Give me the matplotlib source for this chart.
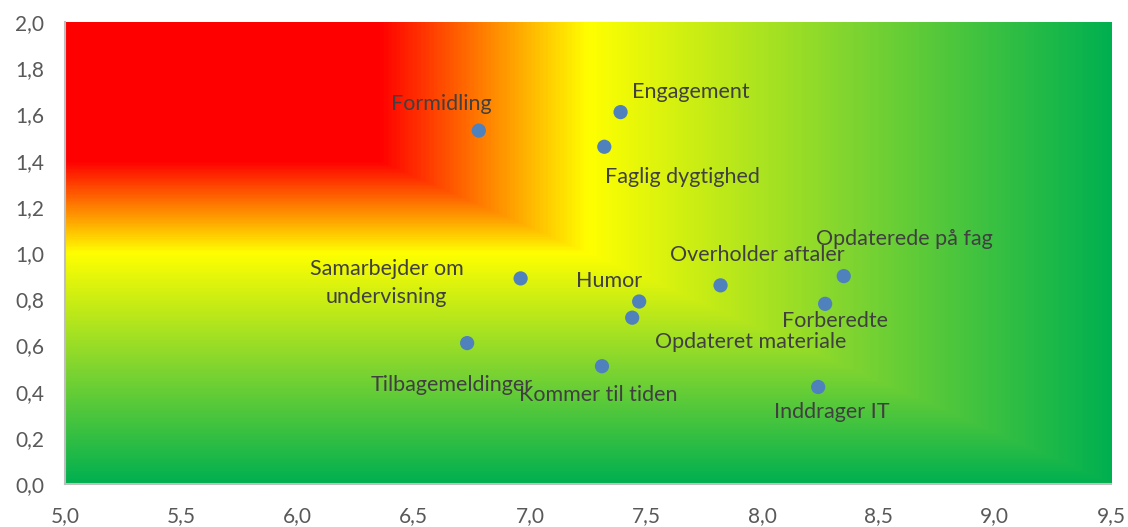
import matplotlib
matplotlib.use("Agg")
import matplotlib.pyplot as plt
import numpy as np
from matplotlib.colors import LinearSegmentedColormap
from matplotlib.ticker import FuncFormatter

# data
labels = ["Formidling", "Engagement", "Faglig dygtighed", "Samarbejder om\nundervisning",
          "Humor", "Opdateret materiale", "Overholder aftaler", "Opdaterede på fag",
          "Forberedte", "Tilbagemeldinger", "Kommer til tiden", "Inddrager IT"]
x_vals = [6.78, 7.39, 7.32, 6.96, 7.47, 7.44, 7.82, 8.35, 8.27, 6.73, 7.31, 8.24]
y_vals = [1.53, 1.61, 1.46, 0.89, 0.79, 0.72, 0.86, 0.90, 0.78, 0.61, 0.51, 0.42]
# label offsets in pixels (dx, dy) from the point, and horizontal alignment
offsets = [(-37, 27, "center"), (11, 20, "left"), (1, -30, "left"), (-134, -5, "center"),
           (-30, 21, "center"), (23, -24, "left"), (37, 30, "center"), (-28, 37, "left"),
           (10, -17, "center"), (-15, -42, "center"), (-4, -29, "center"), (14, -25, "center")]

fig = plt.figure(figsize=(11.28, 5.27), dpi=100)
ax = fig.add_axes([0.0576, 0.0816, 0.9274, 0.8766])

xmin, xmax, ymin, ymax = 5.0, 9.5, 0.0, 2.0

# rectangular gradient from top-left corner
cmap = LinearSegmentedColormap.from_list("grad", [
    (0.0, "#FF0000"), (0.30, "#FF0000"), (0.50, "#FFFF00"),
    (0.75, "#80D530"), (1.0, "#00B050")])
u = np.linspace(0, 1, 900)
v = np.linspace(0, 1, 400)
U, V = np.meshgrid(u, v)
T = np.maximum(U, V)
ax.imshow(T, cmap=cmap, extent=[xmin, xmax, ymin, ymax], origin="upper",
          aspect="auto", interpolation="bilinear", zorder=0, vmin=0, vmax=1)
ax.set_xlim(xmin, xmax)
ax.set_ylim(ymin, ymax)

ax.scatter(x_vals, y_vals, s=105, color="#4F81BD", zorder=3, edgecolors="none")

for lab, xv, yv, (dx, dy, ha) in zip(labels, x_vals, y_vals, offsets):
    ax.annotate(lab, (xv, yv), xytext=(dx * 0.72, dy * 0.72), textcoords="offset points",
                ha=ha, va="center", multialignment="center", fontsize=15.5,
                color="#404040", family="Lato", linespacing=1.5, zorder=4)

ax.set_xticks(np.arange(5.0, 9.51, 0.5))
ax.set_yticks(np.arange(0.0, 2.01, 0.2))
fmt = FuncFormatter(lambda val, pos: f"{val:.1f}".replace(".", ","))
ax.xaxis.set_major_formatter(fmt)
ax.yaxis.set_major_formatter(fmt)
ax.tick_params(length=0, labelsize=15, labelcolor="#595959")
ax.tick_params(axis="x", pad=16)
ax.tick_params(axis="y", pad=15)
for lbl in ax.get_xticklabels() + ax.get_yticklabels():
    lbl.set_family("Lato")
for side in ["top", "right"]:
    ax.spines[side].set_visible(False)
for side in ["left", "bottom"]:
    ax.spines[side].set_color("#BFBFBF")
    ax.spines[side].set_linewidth(1.5)

fig.savefig("out.png", dpi=100)
